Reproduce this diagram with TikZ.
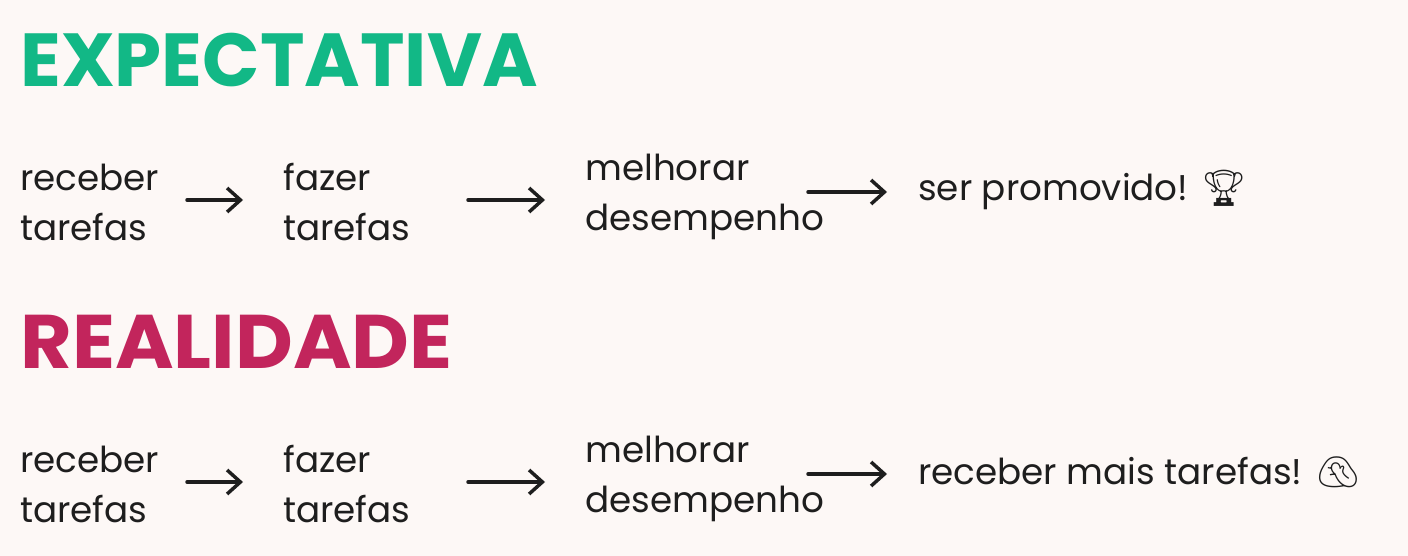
\documentclass[tikz,border=0pt]{standalone}
\usepackage{fontspec}
\usepackage{graphicx}
\setmainfont{Poppins}
\newfontfamily\emo{Noto Emoji}
\usetikzlibrary{arrows.meta}
\definecolor{bg}{HTML}{FDF8F6}
\definecolor{teal}{HTML}{12B886}
\definecolor{mag}{HTML}{C2255C}
\definecolor{ink}{HTML}{1E1E1E}
\begin{document}
\begin{tikzpicture}[x=0.75pt,y=-0.75pt,
  txt/.style={anchor=west,inner sep=0pt,align=left,text=ink,font=\fontsize{26.8}{37.5}\selectfont},
  ttl/.style={anchor=west,inner sep=0pt,font=\bfseries},
  arr/.style={draw=ink,line width=2.6pt,line cap=round,-{Straight Barb[length=10pt,width=18pt,line width=2.6pt]}}]
\fill[bg] (0,0) rectangle (1408,556);
\useasboundingbox (0,0) rectangle (1408,556);
\node[ttl,text=teal] (t1) at (20,60) {\resizebox{388pt}{40pt}{EXPECTATIVA}};
\node[ttl,text=mag] (t2) at (20,342) {\resizebox{324pt}{40pt}{REALIDADE}};
\foreach \r/\dy in {a/0,b/282}{
  \node[txt] (\r1) at (20,202+\dy) {receber\\tarefas};
  \node[txt] (\r2) at (283,202+\dy) {fazer\\tarefas};
  \node[txt] (\r3) at (585,197+\dy) {melhorar\\desempenho};
  \coordinate (\r s1) at (187,200+\dy); \coordinate (\r e1) at (243,200+\dy);
  \coordinate (\r s2) at (468,200+\dy); \coordinate (\r e2) at (545,200+\dy);
  \coordinate (\r s3) at (808,192+\dy); \coordinate (\r e3) at (887,192+\dy);
}
\node[txt] (a4) at (918,190) {ser promovido! {\emo 🏆}};
\node[txt] (b4) at (918,472) {receber mais tarefas! {\emo 🤦}};
\foreach \r in {a,b}{
  \draw[arr] (\r s1) -- (\r e1);
  \draw[arr] (\r s2) -- (\r e2);
  \draw[arr] (\r s3) -- (\r e3);
}
\end{tikzpicture}
\end{document}
